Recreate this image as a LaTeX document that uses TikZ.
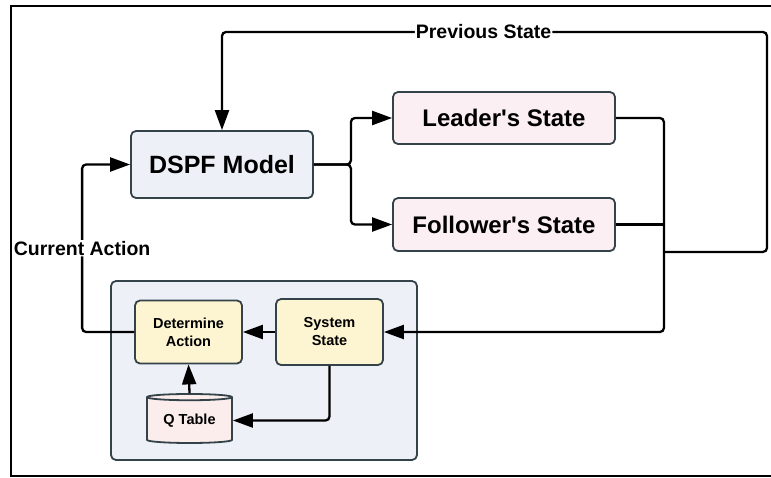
\documentclass[tikz,border=0pt]{standalone}
\usepackage{fontspec}
\setmainfont{Liberation Sans}
\usetikzlibrary{arrows.meta, positioning, shapes.geometric, calc}
\definecolor{modelfill}{HTML}{EDF0F7}
\definecolor{statefill}{HTML}{FCEFF3}
\definecolor{agentfill}{HTML}{EEF0F7}
\definecolor{stepfill}{HTML}{FDF5D1}
\definecolor{tablefill}{HTML}{FBEDEC}
\definecolor{edge}{HTML}{34434A}

\begin{document}
\begin{tikzpicture}[
        x=1pt, y=-1pt,
        box/.style={rectangle, draw=edge, line width=1.8pt, rounded corners=5pt,
                    align=center, inner sep=0pt},
        model/.style={box, fill=modelfill, minimum width=182pt, minimum height=67pt,
                    font=\bfseries\fontsize{25}{28}\selectfont},
        state/.style={box, fill=statefill, minimum width=222pt, minimum height=52pt,
                    font=\bfseries\fontsize{24}{28}\selectfont},
        stepbox/.style={box, fill=stepfill, minimum width=107pt, minimum height=63pt,
                    font=\bfseries\fontsize{14.5}{18}\selectfont},
        store/.style={cylinder, shape border rotate=90, draw=edge, line width=1.8pt,
                    fill=tablefill, aspect=0.12, minimum width=85pt, minimum height=49pt,
                    inner sep=0pt, font=\bfseries\fontsize{14.5}{18}\selectfont},
        line/.style={line width=2.3pt, rounded corners=4pt},
        arrow/.style={line, -{Triangle[length=20pt, width=14pt]}},
        tag/.style={fill=white, inner sep=1pt, font=\bfseries\fontsize{19.5}{22}\selectfont}
    ]
    \useasboundingbox (0,0) rectangle (771,477);

    % agent loop container
    \node [box, fill=agentfill, minimum width=306pt, minimum height=179pt] (agent) at (264,370.5) {};

    \node [model] (dspf) at (222,164.5) {DSPF Model};
    \node [state] (leader) at (504,118) {Leader\textquotesingle s State};
    \node [state, minimum height=53pt] (follower) at (504,224.5) {Follower\textquotesingle s State};
    \node [stepbox] (determine) at (188.5,332) {Determine\\Action};
    \node [stepbox, minimum height=66pt] (system) at (329.5,332) {System\\State};
    \node [store] (qtable) at (189.5,420.5) {Q Table};

    % model output splits into the two states
    \draw[arrow] (dspf.east) -- ([xshift=37pt]dspf.east) |- (leader.west);
    \draw[arrow] (dspf.east) -- ([xshift=37pt]dspf.east) |- (follower.west);

    % states go back into the agent and the model
    \draw[line] (follower.east) -- ++(48,0);
    \draw[arrow] (leader.east) -- ++(48,0) |- (system.east);
    \coordinate (ret) at (767,32);
    \draw[arrow] ([xshift=48pt]follower.south east) -| (ret)
        -| node[tag, pos=0.26] {Previous State} (dspf.north);

    % inside the agent
    \draw[arrow] (system.west) -- (determine.east);
    \draw[arrow] (qtable.north) -- (determine.south);
    \draw[arrow] (system.south) |- (qtable.east);

    \draw[arrow] (determine.west) -- ++(-52,0)
        |- node[tag, pos=0.25] {Current Action} (dspf.west);

    % outer frame
    \draw[line width=2.3pt] (771,6) -- (11,6) -- (11,476) -- (771,476);
\end{tikzpicture}
\end{document}
